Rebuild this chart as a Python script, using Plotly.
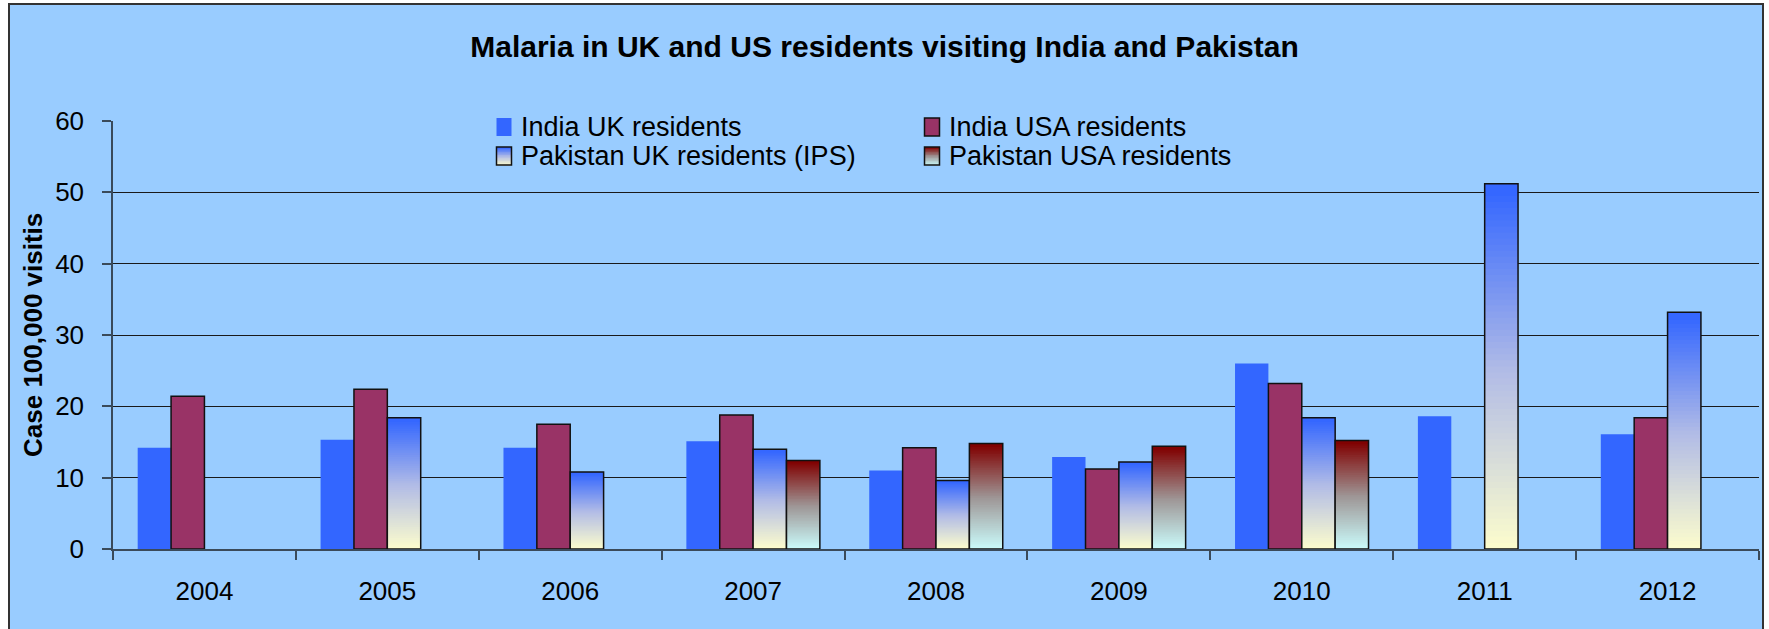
import plotly.graph_objects as go

# Data: malaria cases per 100,000 visits
years = ["2004", "2005", "2006", "2007", "2008", "2009", "2010", "2011", "2012"]
india_uk = [14.2, 15.3, 14.2, 15.1, 11.0, 12.9, 26.0, 18.6, 16.1]
india_usa = [21.4, 22.4, 17.5, 18.8, 14.2, 11.2, 23.2, None, 18.4]
pakistan_uk = [None, 18.4, 10.8, 14.0, 9.6, 12.2, 18.4, 51.2, 33.2]
pakistan_usa = [None, None, None, 12.4, 14.8, 14.4, 15.2, None, None]

series_names = [
    "India UK residents",
    "India USA residents",
    "Pakistan UK residents (IPS)",
    "Pakistan USA residents",
]

W, H = 1769, 629
L, R, T, B = 113, 10, 121, 80
PW, PH = W - L - R, H - T - B
FONT = "Arial, Liberation Sans, sans-serif"
BG = "#99CCFF"

# gradient stops, (position from bottom, rgb)
PK_UK_STOPS = [(0.0, (255, 255, 204)), (0.5, (178, 188, 230)), (1.0, (51, 102, 255))]
PK_US_STOPS = [(0.0, (204, 255, 255)), (0.5, (158, 150, 150)), (1.0, (128, 0, 0))]
N_SEG = 60


def grad(stops, t):
    for (t0, c0), (t1, c1) in zip(stops[:-1], stops[1:]):
        if t0 <= t <= t1:
            f = (t - t0) / (t1 - t0)
            c = [round(a + (b - a) * f) for a, b in zip(c0, c1)]
            return f"rgb({c[0]},{c[1]},{c[2]})"
    c = stops[-1][1]
    return f"rgb({c[0]},{c[1]},{c[2]})"


def px_x(px):
    return (px - L) / PW


def px_y(py):
    return (H - B - py) / PH


fig = go.Figure()

fig.add_trace(go.Bar(x=years, y=india_uk, offsetgroup="1", name=series_names[0],
                     marker=dict(color="#3366FF", line=dict(width=0)), showlegend=False))
fig.add_trace(go.Bar(x=years, y=india_usa, offsetgroup="2", name=series_names[1],
                     marker=dict(color="#993366", line=dict(color="#111111", width=1.5)),
                     showlegend=False))


def gradient_bars(values, group, stops, name):
    # each slice reaches down into the one below it so no seams show
    for k in range(N_SEG):
        t = (k + 0.5) / N_SEG
        bases, heights = [], []
        for v in values:
            if v is None:
                bases.append(None)
                heights.append(None)
            else:
                b0 = max(0.0, v * (k - 1.0) / N_SEG)
                bases.append(b0)
                heights.append(v * (k + 1.0) / N_SEG - b0)
        fig.add_trace(go.Bar(
            x=years, y=heights, base=bases,
            offsetgroup=group, name=name, showlegend=False, hoverinfo="skip",
            marker=dict(color=grad(stops, t), line=dict(width=0)),
        ))
    fig.add_trace(go.Bar(
        x=years, y=values, offsetgroup=group, name=name, showlegend=False,
        marker=dict(color="rgba(0,0,0,0)", line=dict(color="#111111", width=1.5)),
    ))


gradient_bars(pakistan_uk, "3", PK_UK_STOPS, series_names[2])
gradient_bars(pakistan_usa, "4", PK_US_STOPS, series_names[3])

shapes = []
# chart frame
shapes.append(dict(type="rect", xref="paper", yref="paper", layer="below",
                   x0=px_x(9), x1=px_x(1763), y0=px_y(640), y1=px_y(4),
                   fillcolor=BG, line=dict(color="#333333", width=2)))
# legend box (covers the top gridline)
shapes.append(dict(type="rect", xref="paper", yref="paper", layer="above",
                   x0=px_x(466), x1=px_x(1314), y0=px_y(169), y1=px_y(107),
                   fillcolor=BG, line=dict(width=0)))

annotations = []
legend_cols = [504, 932]
legend_rows = [127, 156]
legend_items = [
    (series_names[0], 0, 0, "solid", "#3366FF", False),
    (series_names[1], 1, 0, "solid", "#993366", True),
    (series_names[2], 0, 1, "grad", PK_UK_STOPS, True),
    (series_names[3], 1, 1, "grad", PK_US_STOPS, True),
]
SW, SH = 15, 18
for label, ci, ri, kind, col, border in legend_items:
    cx, cy = legend_cols[ci], legend_rows[ri]
    x0, x1 = cx - SW / 2, cx + SW / 2
    y0, y1 = cy - SH / 2, cy + SH / 2
    if kind == "solid":
        shapes.append(dict(type="rect", xref="paper", yref="paper", layer="above",
                           x0=px_x(x0), x1=px_x(x1), y0=px_y(y1), y1=px_y(y0),
                           fillcolor=col, line=dict(width=0)))
    else:
        n = 12
        for k in range(n):
            yb = y1 - (y1 - y0) * k / n
            yt = y1 - (y1 - y0) * (k + 1) / n
            shapes.append(dict(type="rect", xref="paper", yref="paper", layer="above",
                               x0=px_x(x0), x1=px_x(x1), y0=px_y(yb + 0.5), y1=px_y(yt),
                               fillcolor=grad(col, (k + 0.5) / n), line=dict(width=0)))
    if border:
        shapes.append(dict(type="rect", xref="paper", yref="paper", layer="above",
                           x0=px_x(x0), x1=px_x(x1), y0=px_y(y1), y1=px_y(y0),
                           fillcolor="rgba(0,0,0,0)", line=dict(color="#111111", width=1.5)))
    annotations.append(dict(xref="paper", yref="paper", x=px_x(x1 + 7), y=px_y(cy),
                            xanchor="left", yanchor="middle", showarrow=False,
                            text=label, font=dict(family=FONT, size=27, color="#000000")))

# y-axis title
annotations.append(dict(xref="paper", yref="paper", x=px_x(33), y=0.5,
                        xanchor="center", yanchor="middle", showarrow=False, textangle=-90,
                        text="<b>Case 100,000 visitis</b>",
                        font=dict(family=FONT, size=26, color="#000000")))

fig.update_layout(
    width=W, height=H,
    margin=dict(l=L, r=R, t=T, b=B, pad=0),
    paper_bgcolor="#FFFFFF",
    plot_bgcolor="rgba(0,0,0,0)",
    barmode="group",
    bargap=0.27,
    bargroupgap=0,
    title=dict(text="<b>Malaria in UK and US residents visiting India and Pakistan</b>",
               x=0.5, xref="container", xanchor="center",
               y=1 - 46 / H, yref="container", yanchor="middle",
               font=dict(family=FONT, size=30, color="#000000")),
    font=dict(family=FONT, color="#000000"),
    shapes=shapes,
    annotations=annotations,
    showlegend=False,
)

fig.update_xaxes(
    type="category", showgrid=False, zeroline=False,
    showline=True, linecolor="#3a4a5a", linewidth=1.5,
    ticks="outside", ticklen=9, tickcolor="#3a4a5a", tickwidth=1.5,
    tickson="boundaries", ticklabelstandoff=18,
    tickfont=dict(family=FONT, size=26, color="#000000"),
)
fig.update_yaxes(
    range=[0, 60], dtick=10, showgrid=True, gridcolor="#1a1a1a", gridwidth=1,
    zeroline=False, showline=True, linecolor="#3a4a5a", linewidth=1.5,
    ticks="outside", ticklen=9, tickcolor="#3a4a5a", tickwidth=1.5,
    ticklabelstandoff=13,
    tickfont=dict(family=FONT, size=26, color="#000000"),
)

fig.write_html("out.html")
